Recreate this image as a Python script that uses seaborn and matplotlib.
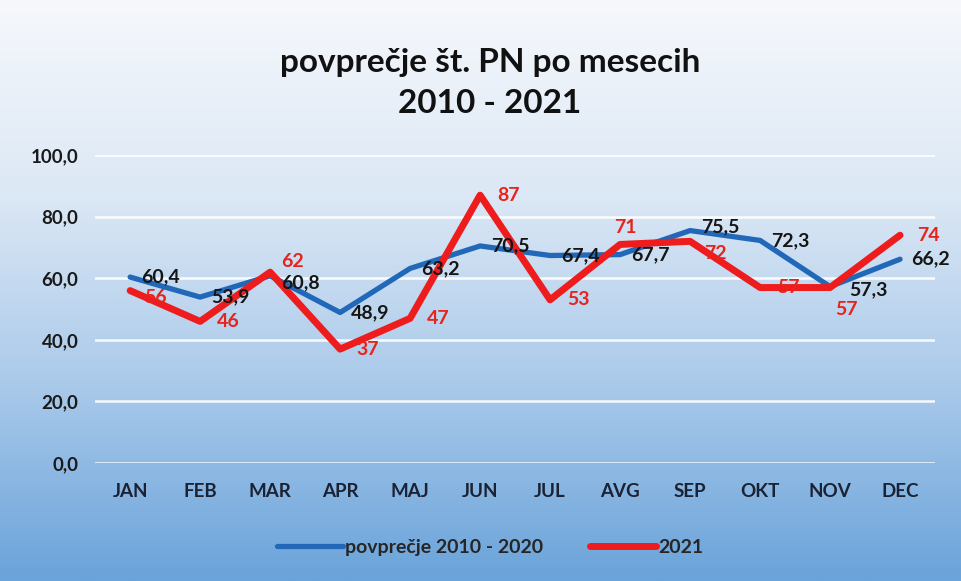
import numpy as np
import pandas as pd
import seaborn as sns
import matplotlib.pyplot as plt
from matplotlib.colors import LinearSegmentedColormap

months = ['JAN', 'FEB', 'MAR', 'APR', 'MAJ', 'JUN', 'JUL', 'AVG', 'SEP', 'OKT', 'NOV', 'DEC']
avg_2010_2020 = [60.4, 53.9, 60.8, 48.9, 63.2, 70.5, 67.4, 67.7, 75.5, 72.3, 57.3, 66.2]
year_2021 = [56, 46, 62, 37, 47, 87, 53, 71, 72, 57, 57, 74]
yticks = [0, 20, 40, 60, 80, 100]

df = pd.DataFrame({'mesec': months, 'avg': avg_2010_2020, 'y2021': year_2021})

sns.set_theme(style='white')
plt.rcParams['font.family'] = ['Lato', 'DejaVu Sans']
plt.rcParams['font.weight'] = 'bold'

fig = plt.figure(figsize=(9.61, 5.81), dpi=100)

# gradient background (light top -> blue bottom)
bg = fig.add_axes([0, 0, 1, 1], zorder=-10)
cmap = LinearSegmentedColormap.from_list('bg', ['#f6f8fc', '#dce8f5', '#a9c9ea', '#6aa3da'])
bg.imshow(np.linspace(0, 1, 256).reshape(-1, 1), aspect='auto', cmap=cmap, extent=[0, 1, 0, 1])
bg.axis('off')

ax = fig.add_axes([0.099, 0.203, 0.874, 0.530])
ax.patch.set_alpha(0)

blue = '#2268b8'
red = '#ee1c1c'
sns.lineplot(data=df, x='mesec', y='avg', ax=ax, color=blue, linewidth=3.8,
             sort=False, label='povprečje 2010 - 2020', zorder=3)
sns.lineplot(data=df, x='mesec', y='y2021', ax=ax, color=red, linewidth=5,
             sort=False, label='2021', zorder=4)

# label offsets (points), nudged a little where the two series collide
blue_off = {2: (8, -5), 8: (8, 3), 10: (14, -2)}
red_off = {0: (10, -5), 2: (8, 8), 7: (-4, 12), 8: (10, -9), 10: (4, -16)}
for i, v in enumerate(avg_2010_2020):
    ax.annotate(f'{v:.1f}'.replace('.', ','), (i, v), xytext=blue_off.get(i, (8, 0)),
                textcoords='offset points', ha='left', va='center', fontsize=14,
                fontweight='bold', color='#151515', zorder=5)
for i, v in enumerate(year_2021):
    ax.annotate(f'{v}', (i, v), xytext=red_off.get(i, (12, 0)), textcoords='offset points',
                ha='left', va='center', fontsize=14, fontweight='bold', color='#e8231c', zorder=6)

ax.set_ylim(0, 100)
ax.set_xlim(-0.5, 11.5)
ax.set_yticks(yticks)
ax.set_yticklabels([f'{t:.1f}'.replace('.', ',') for t in yticks], fontsize=13.5, fontweight='bold', color='#1a1a1a')
ax.set_xticks(range(len(months)))
ax.set_xticklabels(months, fontsize=13.5, fontweight='bold', color='#1a2233')
ax.tick_params(axis='y', pad=12, length=0)
ax.tick_params(axis='x', pad=14, length=0)
ax.set_xlabel('')
ax.set_ylabel('')
ax.grid(axis='y', color='white', linewidth=1.8, alpha=0.9)
ax.grid(axis='x', visible=False)
for s in ax.spines.values():
    s.set_visible(False)

ax.legend(loc='upper center', bbox_to_anchor=(0.47, -0.19), ncol=2, frameon=False,
          handlelength=3.4, handletextpad=0.1, columnspacing=2.4,
          prop={'weight': 'bold', 'size': 14})

fig.text(0.51, 0.893, 'povprečje št. PN po mesecih', ha='center', va='center',
         fontsize=24, fontweight='bold', color='#111111')
fig.text(0.51, 0.822, '2010 - 2021', ha='center', va='center',
         fontsize=24, fontweight='bold', color='#111111')

fig.savefig('out.png', dpi=100)
